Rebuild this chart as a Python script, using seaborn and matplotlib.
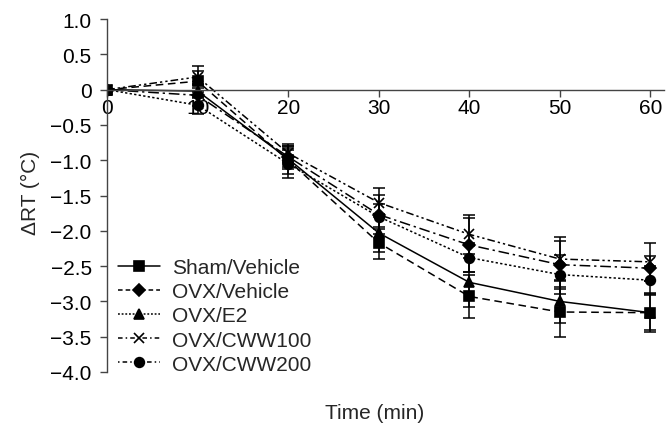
import pandas as pd
import matplotlib.pyplot as plt
import seaborn as sns
from matplotlib.lines import Line2D

#Chart values
time_min = [0, 10, 20, 30, 40, 50, 60]
series_names = ["Sham/Vehicle", "OVX/Vehicle", "OVX/E2", "OVX/CWW100", "OVX/CWW200"]

sham_vehicle = [0, 0.12, -1.00, -2.17, -2.93, -3.15, -3.16]
ovx_vehicle = [0, -0.08, -0.95, -1.77, -2.20, -2.48, -2.53]
ovx_e2 = [0, -0.02, -0.98, -2.03, -2.73, -3.00, -3.16]
ovx_cww100 = [0, 0.18, -0.90, -1.60, -2.05, -2.40, -2.44]
ovx_cww200 = [0, -0.22, -1.05, -1.80, -2.38, -2.62, -2.70]

sham_vehicle_err = [0, 0.15, 0.20, 0.23, 0.30, 0.35, 0.25]
ovx_vehicle_err = [0, 0.15, 0.15, 0.28, 0.38, 0.34, 0.18]
ovx_e2_err = [0, 0.10, 0.15, 0.27, 0.35, 0.30, 0.28]
ovx_cww100_err = [0, 0.15, 0.13, 0.20, 0.28, 0.31, 0.27]
ovx_cww200_err = [0, 0.12, 0.20, 0.18, 0.21, 0.28, 0.20]

y_ticks = [1.0, 0.5, 0, -0.5, -1.0, -1.5, -2.0, -2.5, -3.0, -3.5, -4.0]
y_tick_labels = ["1.0", "0.5", "0", "\u22120.5", "\u22121.0", "\u22121.5", "\u22122.0",
                 "\u22122.5", "\u22123.0", "\u22123.5", "\u22124.0"]
x_ticks = [0, 10, 20, 30, 40, 50, 60]

#Building a long table for seaborn
values = [sham_vehicle, ovx_vehicle, ovx_e2, ovx_cww100, ovx_cww200]
errors = [sham_vehicle_err, ovx_vehicle_err, ovx_e2_err, ovx_cww100_err, ovx_cww200_err]
rows = []
for name, vals, errs in zip(series_names, values, errors):
    for t, v, e in zip(time_min, vals, errs):
        rows.append({"time": t, "dRT": v, "err": e, "group": name})
df = pd.DataFrame(rows)

#Styles as drawn in the plot area
markers = {"Sham/Vehicle": "s", "OVX/Vehicle": "D", "OVX/E2": "^",
           "OVX/CWW100": "x", "OVX/CWW200": "o"}
marker_sizes = {"Sham/Vehicle": 6.5, "OVX/Vehicle": 6, "OVX/E2": 7,
                "OVX/CWW100": 7.5, "OVX/CWW200": 7}
plot_styles = {"Sham/Vehicle": (0, (5, 3)), "OVX/Vehicle": (0, (7, 2.5, 1.5, 2.5)),
               "OVX/E2": "-", "OVX/CWW100": (0, (5, 2, 1.5, 2, 1.5, 2)),
               "OVX/CWW200": (0, (1.5, 1.5))}

sns.set_style("white")
plt.rcParams["font.family"] = ["Liberation Sans", "DejaVu Sans"]
fs = 15

fig = plt.figure(figsize=(6.66, 4.27), dpi=100)
ax = fig.add_axes([0.1607, 0.1265, 0.8363, 0.8265])

for name in series_names:
    sub = df[df["group"] == name]
    sns.lineplot(data=sub, x="time", y="dRT", color="black", linewidth=1.1,
                 linestyle=plot_styles[name], marker=markers[name],
                 markersize=marker_sizes[name], markeredgecolor="black",
                 markerfacecolor="black", markeredgewidth=1.2, ax=ax, errorbar=None)
    ax.errorbar(sub["time"], sub["dRT"], yerr=sub["err"], fmt="none", ecolor="black",
                elinewidth=1.1, capsize=4.5, capthick=1.1)

#Editing the axes
ax.set_xlim(0, 61.5)
ax.set_ylim(-4.0, 1.0)
ax.set_yticks(y_ticks)
ax.set_yticklabels(y_tick_labels)
ax.set_xticks(x_ticks)
ax.set_xticklabels([str(t) for t in x_ticks])

ax.spines["top"].set_visible(False)
ax.spines["right"].set_visible(False)
ax.spines["bottom"].set_position(("data", 0))
for side in ["left", "bottom"]:
    ax.spines[side].set_color("#444444")
    ax.spines[side].set_linewidth(1.0)
ax.tick_params(axis="both", direction="out", length=5, width=1.0, color="#444444",
               labelsize=fs, labelcolor="black", left=True, bottom=True)
ax.tick_params(axis="x", pad=1)
ax.tick_params(axis="y", pad=6)

ax.set_xlabel("Time (min)", fontsize=fs, va="center")
ax.xaxis.set_label_coords(0.48, -0.116)
ax.set_ylabel("\u0394RT (\u00b0C)", fontsize=fs, va="center")
ax.yaxis.set_label_coords(-0.138, 0.51)

#Legend as shown in the reference
legend_styles = ["-", (0, (3, 2)), (0, (1.2, 1.2)), (0, (3, 2, 1, 2)), (0, (1, 2, 3, 2))]
handles = []
for name, ls in zip(series_names, legend_styles):
    handles.append(Line2D([0], [0], color="black", linestyle=ls, linewidth=1.1,
                          marker=markers[name], markersize=marker_sizes[name],
                          markeredgecolor="black", markeredgewidth=1.2))
ax.legend(handles=handles, labels=series_names, loc="lower left", bbox_to_anchor=(0.02, -0.005),
          frameon=False, fontsize=fs, handlelength=2.0, handletextpad=0.58, labelspacing=0.25,
          borderpad=0, borderaxespad=0)

fig.savefig("out.png", dpi=100)
